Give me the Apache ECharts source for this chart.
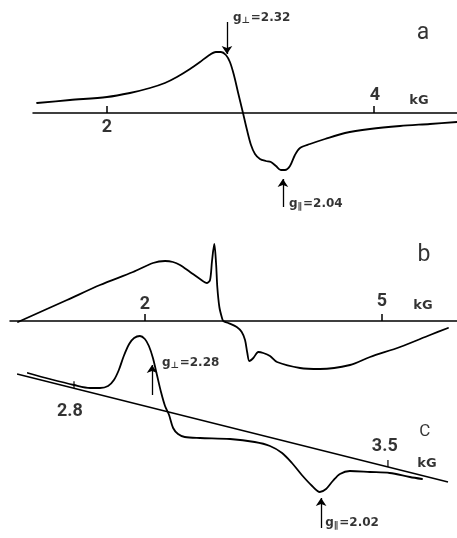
<!DOCTYPE html>
<html>
<head>
<meta charset="utf-8">
<script src="https://cdn.jsdelivr.net/npm/echarts@6/dist/echarts.min.js"></script>
<style>
  html, body { margin: 0; padding: 0; background: #fff; }
  #chart { width: 457px; height: 538px; }
</style>
</head>
<body>
<div id="chart"></div>
<script>
// spectrum a (field in kG, signal in arbitrary units)
var aField  = [1.476, 1.723, 2.0, 2.172, 2.322, 2.434, 2.524, 2.622, 2.697, 2.757, 2.816, 2.854, 2.891, 2.921, 2.951, 2.981, 3.019, 3.049, 3.079, 3.109, 3.146, 3.191, 3.228, 3.266, 3.303, 3.333, 3.371, 3.408, 3.446, 3.521, 3.633, 3.783, 3.970, 4.195, 4.419, 4.622];
var aSignal = [10, 13, 16, 20, 25, 30, 36, 44, 51, 57, 61, 61, 58, 51, 38, 21, 0, -17, -32, -41, -46, -48, -49, -53, -57, -57, -53, -42, -35, -31, -26, -20, -16, -13, -11, -9];
var aTicks = [2, 4];

// spectrum b
var bField  = [0.392, 1.013, 1.430, 1.848, 2.101, 2.253, 2.354, 2.443, 2.570, 2.696, 2.785, 2.823, 2.848, 2.877, 2.899, 2.915, 2.941, 2.971, 2.991, 3.054, 3.161, 3.224, 3.266, 3.295, 3.320, 3.371, 3.434, 3.497, 3.582, 3.671, 3.962, 4.215, 4.595, 4.848, 5.228, 5.608, 5.835];
var bSignal = [-1, 21, 36, 49, 58, 60, 59, 56, 49, 42, 38, 41, 60, 77, 58, 34, 14, 4, 0, -2, -6, -11, -19, -32, -40, -37, -31, -32, -35, -41, -47, -48, -44, -36, -26, -14, -7];
var bTicks = [2, 5];

// spectrum c, drawn against a sloping base line
var cField  = [2.697, 2.746, 2.800, 2.836, 2.858, 2.876, 2.889, 2.900, 2.911, 2.923, 2.934, 2.947, 2.958, 2.967, 2.976, 2.985, 2.994, 3.003, 3.012, 3.021, 3.032, 3.047, 3.081, 3.148, 3.203, 3.237, 3.264, 3.286, 3.308, 3.331, 3.348, 3.362, 3.377, 3.393, 3.415, 3.460, 3.504, 3.549, 3.576];
var cSignal = [165, 159, 153, 150, 150, 152, 158, 168, 182, 194, 200, 202, 199, 192, 180, 163, 146, 132, 123, 110, 104, 101, 100, 99, 96, 92, 85, 75, 63, 52, 46, 49, 57, 64, 67, 66, 65, 61, 59];
var cBaseField  = [2.673, 3.634];
var cBaseSignal = [164, 56];
var cTicks = [2.8, 3.5];

// g-value marks: [field, arrow tail, arrow tip, label field, label signal, subscript, g]
var aMarks = [[2.899, 91, 59, 2.944, 95, '⊥', '2.32'], [3.318, -94, -66, 3.363, -91, '∥', '2.04']];
var cMarks = [[2.974, 143, 173, 2.996, 175, '⊥', '2.28'], [3.351, 10, 40, 3.360, 15, '∥', '2.02']];

// texts: [field, signal, text, style]
var aTexts = [[2.0, -14, '2', 'tick'], [4.007, 18, '4', 'tick'], [4.337, 12, 'kG', 'unit'], [4.367, 80, 'a', 'panel']];
var bTexts = [[2.0, 17, '2', 'tick'], [5.0, 20, '5', 'tick'], [5.519, 15, 'kG', 'unit'], [5.532, 66, 'b', 'panel']];
var cTexts = [[2.791, 127, '2.8', 'tick'], [3.493, 92, '3.5', 'tick'], [3.587, 74, 'kG', 'unit'], [3.582, 106, 'C', 'big']];

var INK = '#000';
var ROBO = "Roboto, 'Liberation Sans', sans-serif";
var SANS = "'DejaVu Sans', 'Liberation Sans', sans-serif";

var textStyles = {
    tick:  { fontFamily: ROBO, fontWeight: 'bold', fontSize: 18 },
    unit:  { fontFamily: SANS, fontWeight: 'bold', fontSize: 13 },
    panel: { fontFamily: ROBO, fontWeight: 'normal', fontSize: 23 },
    big:   { fontFamily: ROBO, fontWeight: 'normal', fontSize: 17 }
};

function pairs(xs, ys) {
    return xs.map(function (x, i) { return [x, ys[i]]; });
}

function baseAt(x) {
    var t = (x - cBaseField[0]) / (cBaseField[1] - cBaseField[0]);
    return cBaseSignal[0] + t * (cBaseSignal[1] - cBaseSignal[0]);
}

function arrows(marks) {
    return {
        silent: true,
        symbol: ['none', 'arrow'],
        symbolSize: 8,
        lineStyle: { color: INK, width: 1.3, type: 'solid' },
        label: { show: false },
        emphasis: { disabled: true },
        data: marks.map(function (m) {
            return [{ coord: [m[0], m[1]] }, { coord: [m[0], m[2]] }];
        })
    };
}

function textSeries(idx, texts, marks) {
    var data = texts.map(function (t) {
        return {
            value: [t[0], t[1]],
            label: Object.assign({ formatter: t[2], color: INK, textBorderWidth: 0 }, textStyles[t[3]])
        };
    });
    (marks || []).forEach(function (m) {
        data.push({
            value: [m[3], m[4]],
            label: {
                align: 'left',
                formatter: '{g|g}{s|' + m[5] + '}{t|=' + m[6] + '}'
            }
        });
    });
    return {
        type: 'scatter',
        xAxisIndex: idx,
        yAxisIndex: idx,
        symbolSize: 1,
        silent: true,
        itemStyle: { color: 'rgba(0,0,0,0)' },
        label: {
            show: true,
            position: 'inside',
            color: INK,
            textBorderWidth: 0,
            rich: {
                g: { fontFamily: SANS, fontWeight: 'bold', fontSize: 12, color: INK, lineHeight: 14 },
                s: { fontFamily: SANS, fontWeight: 'bold', fontSize: 9, color: INK, lineHeight: 10, padding: [8, 1, 0, 0], verticalAlign: 'bottom' },
                t: { fontFamily: SANS, fontWeight: 'bold', fontSize: 12, color: INK, lineHeight: 14 }
            }
        },
        data: data
    };
}

function fieldAxis(idx, min, max, ticks) {
    return {
        type: 'value',
        gridIndex: idx,
        min: min,
        max: max,
        show: ticks != null,
        axisLine: { onZero: true, lineStyle: { color: INK, width: 1.5 } },
        axisTick: { show: true, inside: true, length: 7, customValues: ticks || [], lineStyle: { color: INK, width: 1.5 } },
        axisLabel: { show: false },
        splitLine: { show: false }
    };
}

function signalAxis(idx, min, max) {
    return { type: 'value', gridIndex: idx, min: min, max: max, show: false, splitLine: { show: false } };
}

function curve(idx, xs, ys, marks) {
    var s = {
        type: 'line',
        xAxisIndex: idx,
        yAxisIndex: idx,
        data: pairs(xs, ys),
        showSymbol: false,
        smooth: 0.3,
        silent: true,
        lineStyle: { color: INK, width: 1.8, join: 'round', cap: 'round' }
    };
    if (marks) s.markLine = arrows(marks);
    return s;
}

var chart = echarts.init(document.getElementById('chart'));
chart.setOption({
    backgroundColor: '#fff',
    animation: false,
    grid: [
        { left: 33, top: 13, width: 424, height: 200, containLabel: false, outerBoundsMode: 'none' },
        { left: 10, top: 221, width: 447, height: 200, containLabel: false, outerBoundsMode: 'none' },
        { left: 0, top: 318, width: 457, height: 220, containLabel: false, outerBoundsMode: 'none' }
    ],
    xAxis: [
        fieldAxis(0, 1.446, 4.622, aTicks),
        fieldAxis(1, 0.291, 5.949, bTicks),
        fieldAxis(2, 2.635, 3.654, null)
    ],
    yAxis: [
        signalAxis(0, -100, 100),
        signalAxis(1, -100, 100),
        signalAxis(2, 0, 220)
    ],
    series: [
        curve(0, aField, aSignal, aMarks),
        curve(1, bField, bSignal, null),
        {
            type: 'line',
            xAxisIndex: 2,
            yAxisIndex: 2,
            data: pairs(cBaseField, cBaseSignal),
            showSymbol: false,
            silent: true,
            lineStyle: { color: INK, width: 1.5 }
        },
        curve(2, cField, cSignal, cMarks),
        {
            type: 'scatter',
            xAxisIndex: 2,
            yAxisIndex: 2,
            silent: true,
            symbol: 'rect',
            symbolSize: [1.5, 7],
            symbolOffset: [0, '-50%'],
            itemStyle: { color: INK },
            data: cTicks.map(function (v) { return [v, baseAt(v)]; })
        },
        textSeries(0, aTexts, aMarks),
        textSeries(1, bTexts, null),
        textSeries(2, cTexts, cMarks)
    ]
});
</script>
</body>
</html>
